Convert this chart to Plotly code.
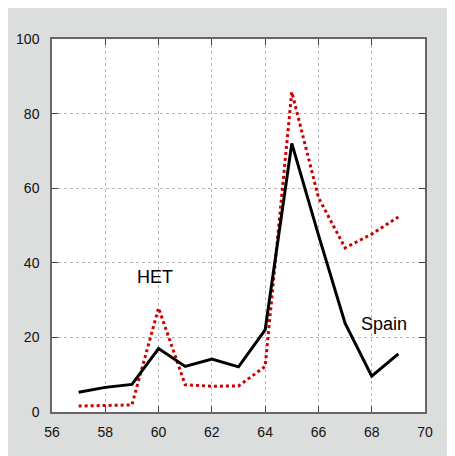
import plotly.graph_objects as go

years = [57, 58, 59, 60, 61, 62, 63, 64, 65, 66, 67, 68, 69]
spain = [5.3, 6.6, 7.4, 17.0, 12.2, 14.2, 12.1, 22.0, 72.0, 47.5, 23.8, 9.6, 15.6]
het = [1.6, 1.7, 1.9, 27.9, 7.3, 6.9, 7.0, 12.2, 85.8, 57.5, 44.0, 47.7, 52.3]

x_ticks = [56, 58, 60, 62, 64, 66, 68, 70]
y_ticks = [0, 20, 40, 60, 80, 100]

fig = go.Figure()
fig.add_trace(go.Scatter(x=years, y=het, mode="lines", name="HET",
                         line=dict(color="#cc0000", width=3, dash="dot")))
fig.add_trace(go.Scatter(x=years, y=spain, mode="lines", name="Spain",
                         line=dict(color="black", width=3)))

fig.add_annotation(x=59.86, y=36.2, text="HET", showarrow=False,
                   font=dict(size=18, color="black", family="Liberation Sans, Arial"))
fig.add_annotation(x=68.45, y=23.7, text="Spain", showarrow=False,
                   font=dict(size=18, color="black", family="Liberation Sans, Arial"))

axis_common = dict(
    showgrid=True, gridcolor="#b8b8b8", griddash="dot", gridwidth=1,
    zeroline=False, showline=True, linecolor="#666", linewidth=1.5, mirror="allticks",
    ticks="inside", ticklen=6, tickcolor="#444", tickwidth=1, automargin=False,
    tickfont=dict(size=14, color="#111", family="Liberation Sans, Arial"),
)

fig.update_layout(
    width=447, height=448,
    margin=dict(l=44, r=30, t=31, b=44, autoexpand=False),
    paper_bgcolor="#dcdddd", plot_bgcolor="white",
    showlegend=False,
    xaxis=dict(range=[56, 70], tickvals=x_ticks, ticklabelstandoff=6, **axis_common),
    yaxis=dict(range=[0, 100], tickvals=y_ticks, ticklabelstandoff=8, **axis_common),
)

fig.write_html("out.html")
